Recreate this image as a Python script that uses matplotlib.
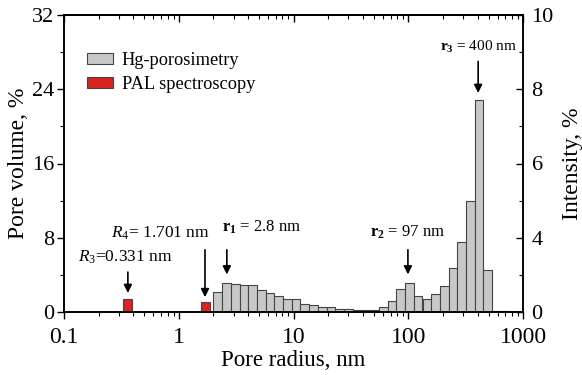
import numpy as np
import matplotlib
matplotlib.use('Agg')
from matplotlib import pyplot as plt
from matplotlib.ticker import FixedLocator, FixedFormatter, NullFormatter, LogLocator

plt.rcParams['font.family'] = ['Liberation Serif', 'DejaVu Serif']
plt.rcParams['mathtext.fontset'] = 'custom'
plt.rcParams['mathtext.rm'] = 'Liberation Serif'
plt.rcParams['mathtext.it'] = 'Liberation Serif:italic'
plt.rcParams['mathtext.bf'] = 'Liberation Serif:bold'

# Hg-porosimetry histogram (bin centres in nm, pore volume in %)
hg_radius = [2.18, 2.60, 3.10, 3.69, 4.39, 5.23, 6.23, 7.42, 8.84, 10.5,
             12.5, 14.9, 17.8, 21.2, 25.2, 30.0, 35.8, 42.6, 50.7, 60.4,
             71.9, 85.7, 102, 121.5, 144.8, 172, 205, 245, 291, 347,
             413, 492, 586, 680]
hg_volume = [2.2, 3.15, 3.0, 2.9, 2.9, 2.35, 2.0, 1.75, 1.35, 1.35,
             0.9, 0.75, 0.55, 0.55, 0.35, 0.35, 0.25, 0.25, 0.25, 0.55,
             1.15, 2.5, 3.15, 1.75, 1.35, 1.95, 2.75, 4.7, 7.5, 12.0,
             22.8, 4.5, 0.1, 0.1]

# PAL spectroscopy
pal_radius = [0.355, 1.70]
pal_volume = [1.45, 1.05]

half = 0.038  # half bar width in decades


def edges(r):
    r = np.asarray(r, dtype=float)
    lo = r * 10 ** (-half)
    hi = r * 10 ** half
    return lo, hi - lo


fig = plt.figure(figsize=(5.82, 3.75), dpi=100)
ax = fig.add_axes([0.110, 0.168, 0.789, 0.792])

lo, w = edges(hg_radius)
ax.bar(lo, hg_volume, width=w, align='edge', color='#c8c8c8',
       edgecolor='#444444', linewidth=0.8, label='Hg-porosimetry')
lo, w = edges(pal_radius)
ax.bar(lo, pal_volume, width=w, align='edge', color='#dd2222',
       edgecolor='#444444', linewidth=0.8, label='PAL spectroscopy')

ax.set_xscale('log')
ax.set_xlim(0.1, 1000)
ax.set_ylim(0, 32)
ax.set_xticks([0.1, 1, 10, 100, 1000])
ax.set_xticklabels(['0.1', '1', '10', '100', '1000'])
ax.xaxis.set_minor_locator(LogLocator(base=10, subs=np.arange(2, 10)))
ax.xaxis.set_minor_formatter(NullFormatter())
ax.set_yticks([0, 8, 16, 24, 32])
ax.set_yticks([4, 12, 20, 28], minor=True)
ax.tick_params(which='both', direction='out', top=False, right=False)
ax.tick_params(which='major', length=5, width=1)
ax.tick_params(which='minor', length=3, width=0.8)
ax.tick_params(axis='x', labelsize=17, pad=6)
ax.tick_params(axis='y', labelsize=16, pad=2)
ax.set_xlabel('Pore radius, nm', fontsize=16.5, labelpad=1)
ax.set_ylabel('Pore volume, %', fontsize=17, labelpad=2)

# top axis: ticks pointing down into the plot, no labels
top = ax.secondary_xaxis('top')
top.set_xticks([0.1, 1, 10, 100, 1000])
top.xaxis.set_minor_locator(LogLocator(base=10, subs=np.arange(2, 10)))
top.xaxis.set_minor_formatter(NullFormatter())
top.tick_params(which='both', direction='in', labeltop=False)
top.tick_params(which='major', length=5, width=1)
top.tick_params(which='minor', length=3, width=0.8)

ax2 = ax.twinx()
ax2.set_ylim(2, 10)
ax2.yaxis.set_major_locator(FixedLocator([2, 4, 6, 8, 10]))
ax2.yaxis.set_major_formatter(FixedFormatter(['0', '4', '6', '8', '10']))
ax2.yaxis.set_minor_locator(FixedLocator([3, 5, 7, 9]))
ax2.tick_params(which='both', direction='in', labelsize=16, pad=6)
ax2.tick_params(which='major', length=5, width=1)
ax2.tick_params(which='minor', length=3, width=0.8)
ax2.set_ylabel('Intensity, %', fontsize=17, labelpad=6)

for a in (ax, ax2):
    for s in a.spines.values():
        s.set_linewidth(1.2)
top.spines['top'].set_linewidth(1.2)

ax.legend(loc='upper left', bbox_to_anchor=(0.05, 0.875), frameon=False,
          fontsize=13.2, handlelength=1.4, handleheight=0.6,
          handletextpad=0.5, labelspacing=0.38, borderaxespad=0, borderpad=0)

arrow = dict(arrowstyle='-|>', color='black', lw=1.2, mutation_scale=12)

ax.annotate('', xy=(0.36, 1.75), xytext=(0.36, 4.6), arrowprops=arrow)
ax.text(0.34, 5.0, r'$R_{\mathit{3}}$=0.331 nm', ha='center', va='bottom', fontsize=12.5)

ax.annotate('', xy=(1.69, 1.3), xytext=(1.69, 7.0), arrowprops=arrow)
ax.text(0.69, 7.5, r'$R_{\mathit{4}}$= 1.701 nm', ha='center', va='bottom', fontsize=12.5)

ax.annotate('', xy=(2.62, 3.75), xytext=(2.62, 7.0), arrowprops=arrow)
ax.text(2.37, 8.2, r'$\mathbf{r_1}$ = 2.8 nm', ha='left', va='bottom', fontsize=12)

ax.annotate('', xy=(99, 3.75), xytext=(99, 7.0), arrowprops=arrow)
ax.text(99, 7.7, r'$\mathbf{r_2}$ = 97 nm', ha='center', va='bottom', fontsize=12)

ax.annotate('', xy=(405, 23.3), xytext=(405, 27.3), arrowprops=arrow)
ax.text(405, 27.7, r'$\mathbf{r_3}$ = 400 nm', ha='center', va='bottom', fontsize=11)

fig.savefig('out.png', dpi=100)
